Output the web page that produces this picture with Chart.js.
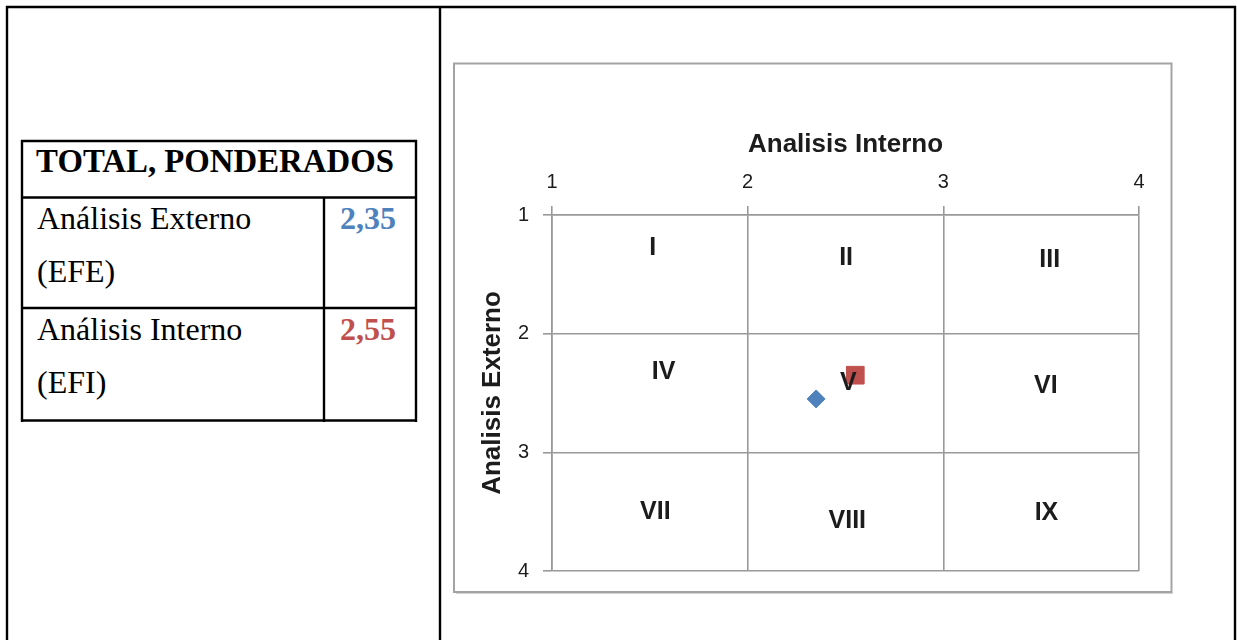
<!DOCTYPE html>
<html>
<head>
<meta charset="utf-8">
<title>Matriz Interna-Externa</title>
<script src="https://cdn.jsdelivr.net/npm/chart.js@4.4.1/dist/chart.umd.min.js"></script>
<style>
  html, body { margin: 0; padding: 0; background: #fff; width: 1237px; height: 640px; overflow: hidden; }
  #doc { position: absolute; left: 0; top: 0; }
  #wrap { position: absolute; left: 456px; top: 66px; width: 712px; height: 524px; }
  #ie { display: block; }
  .serif { font-family: "Liberation Serif", "Times New Roman", serif; font-size: 32px; }
  .head { font-size: 32.8px; }
</style>
</head>
<body>
<svg id="doc" width="1237" height="640" xmlns="http://www.w3.org/2000/svg"></svg>
<div id="wrap"><canvas id="ie" width="712" height="524"></canvas></div>
<script>
// ---- data ----
const tituloTabla = 'TOTAL, PONDERADOS';
const indicadores = ['Análisis Externo', 'Análisis Interno'];
const siglas = ['(EFE)', '(EFI)'];
const totales = [2.35, 2.55];            // EFE, EFI

const ejeX = 'Analisis Interno';
const ejeY = 'Analisis Externo';
const ticksEje = [1, 2, 3, 4];

// cell names and where each name sits, in axis units
const zonas  = ['I', 'II', 'III', 'IV', 'V', 'VI', 'VII', 'VIII', 'IX'];
const zonaX  = [1.515, 2.503, 3.544, 1.570, 2.515, 3.524, 1.528, 2.509, 3.527];
const zonaY  = [1.28, 1.36, 1.38, 2.32, 2.42, 2.44, 3.50, 3.58, 3.51];

// ---- styles ----
const AZUL = '#4F81BD';
const ROJO = '#C0504D';
const GRIS = '#999999';
const TEXTO = '#1c1c1c';

// ---- document frame with the summary table ----
const NS = 'http://www.w3.org/2000/svg';
const svg = document.getElementById('doc');
function el(tag, attrs, text) {
  const e = document.createElementNS(NS, tag);
  for (const k in attrs) e.setAttribute(k, attrs[k]);
  if (text !== undefined) e.textContent = text;
  svg.appendChild(e);
  return e;
}
function line(x1, y1, x2, y2, w, c) {
  el('line', { x1, y1, x2, y2, stroke: c || '#000', 'stroke-width': w || 2 });
}
// outer two-column frame
line(6, 7, 1236, 7, 2.4);
line(7, 6, 7, 640, 2.4);
line(440, 6, 440, 640, 2.4);
line(1235, 6, 1235, 640, 2.4);
// summary table
line(21, 141, 417, 141, 2.4);
line(21, 197.5, 417, 197.5, 2.4);
line(21, 308, 417, 308, 2.4);
line(21, 420.5, 417, 420.5, 2.4);
line(22, 140, 22, 422, 2.4);
line(416, 140, 416, 422, 2.4);
line(324, 197, 324, 422, 2.4);

const fmt = v => v.toFixed(2).replace('.', ',');
el('text', { x: 215, y: 172, 'text-anchor': 'middle', class: 'serif head', 'font-weight': 'bold', fill: '#000' }, tituloTabla);
const filaBase = [229, 340];
const valColor = [AZUL, ROJO];
indicadores.forEach((t, i) => {
  el('text', { x: 37, y: filaBase[i], class: 'serif', fill: '#000' }, t);
  el('text', { x: 37, y: filaBase[i] + 53, class: 'serif', fill: '#000' }, siglas[i]);
  el('text', { x: 396, y: filaBase[i], 'text-anchor': 'end', class: 'serif', 'font-weight': 'bold', fill: valColor[i] }, fmt(totales[i]));
});
// chart frame
el('rect', { x: 454, y: 63.5, width: 717.5, height: 528.5, fill: 'none', stroke: '#a3a3a3', 'stroke-width': 2 });
line(1172.5, 65, 1172.5, 594, 1, '#d4d4d4');
line(456, 593.5, 1173, 593.5, 1, '#d4d4d4');

// ---- zone names drawn over the plot ----
const zoneNames = {
  id: 'zoneNames',
  afterDatasetsDraw(chart) {
    const { ctx, scales: { x, y } } = chart;
    ctx.save();
    ctx.font = 'bold 25px "Liberation Sans", Arial, sans-serif';
    ctx.fillStyle = TEXTO;
    ctx.textAlign = 'center';
    ctx.textBaseline = 'middle';
    zonas.forEach((z, i) => {
      ctx.fillText(z, x.getPixelForValue(zonaX[i]), y.getPixelForValue(zonaY[i]));
    });
    ctx.restore();
  }
};

const gridCfg = { color: GRIS, lineWidth: 1.6, tickLength: 9, tickColor: GRIS, drawTicks: true };
const tickFont = { family: '"Liberation Sans", Arial, sans-serif', size: 20 };
const titleFont = { family: '"Liberation Sans", Arial, sans-serif', size: 26, weight: 'bold' };

new Chart(document.getElementById('ie'), {
  type: 'scatter',
  data: {
    datasets: [
      {
        label: 'EFE',
        data: [{ x: totales[0], y: totales[1] }],
        pointStyle: 'rectRot',
        pointRadius: 9,
        backgroundColor: AZUL,
        borderColor: AZUL,
        borderWidth: 1
      },
      {
        label: 'EFI',
        data: [{ x: totales[1], y: totales[0] }],
        pointStyle: 'rect',
        pointRadius: 12.5,
        backgroundColor: ROJO,
        borderColor: ROJO,
        borderWidth: 1
      }
    ]
  },
  options: {
    responsive: false,
    animation: false,
    events: [],
    layout: { padding: { left: 0, top: 0, right: 29, bottom: 19 } },
    plugins: { legend: { display: false }, tooltip: { enabled: false } },
    scales: {
      x: {
        type: 'linear',
        position: 'top',
        min: ticksEje[0],
        max: ticksEje[ticksEje.length - 1],
        afterBuildTicks: s => { s.ticks = ticksEje.map(v => ({ value: v })); },
        afterFit: s => { s.height = 149; s.paddingLeft = 0; s.paddingRight = 0; },
        grid: gridCfg,
        border: { color: GRIS, width: 1.6 },
        ticks: { font: tickFont, color: TEXTO, padding: 11.5, maxRotation: 0 },
        title: { display: true, text: ejeX, font: titleFont, color: TEXTO, padding: { top: 63, bottom: 0 } }
      },
      y: {
        type: 'linear',
        position: 'left',
        reverse: true,
        min: ticksEje[0],
        max: ticksEje[ticksEje.length - 1],
        afterBuildTicks: s => { s.ticks = ticksEje.map(v => ({ value: v })); },
        afterFit: s => { s.width = 96; s.paddingTop = 0; s.paddingBottom = 0; },
        grid: gridCfg,
        border: { color: GRIS, width: 1.6 },
        ticks: { font: tickFont, color: TEXTO, padding: 14 },
        title: { display: true, text: ejeY, font: titleFont, color: TEXTO, padding: { top: 21, bottom: 0 } }
      }
    }
  },
  plugins: [zoneNames]
});
</script>
</body>
</html>
